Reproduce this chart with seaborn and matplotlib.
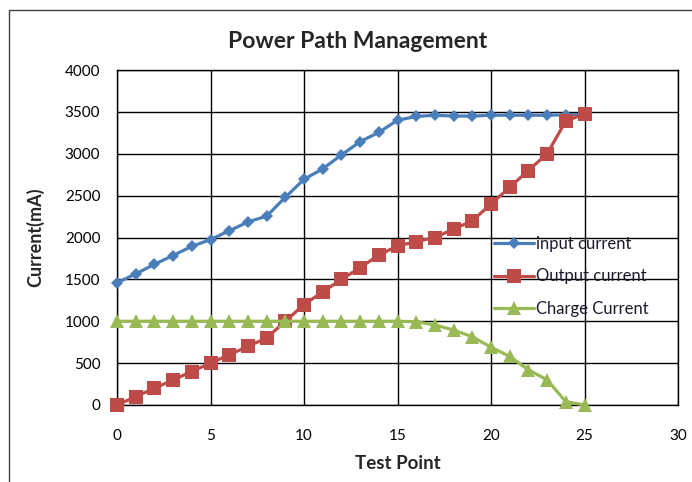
import matplotlib
matplotlib.use("Agg")
import matplotlib.pyplot as plt
import seaborn as sns
import pandas as pd
from matplotlib.patches import Rectangle

sns.set_theme(style="white")
plt.rcParams["font.family"] = ["Lato", "DejaVu Sans"]

# ── DATA
test_point = list(range(26))
input_current = [1460, 1565, 1680, 1785, 1895, 1975, 2080, 2185, 2255, 2480,
                 2695, 2820, 2985, 3145, 3255, 3400, 3445, 3460, 3450, 3450,
                 3460, 3460, 3460, 3460, 3465, 3470]
output_current = [0, 100, 200, 300, 400, 500, 600, 700, 800, 1000,
                  1200, 1350, 1500, 1640, 1790, 1900, 1950, 2000, 2100, 2200,
                  2400, 2600, 2800, 3000, 3390, 3475]
charge_current = [1000, 1000, 1000, 1000, 1000, 1000, 1000, 1000, 1000, 1000,
                  1000, 1000, 1000, 1000, 1000, 1000, 995, 955, 895, 815,
                  690, 580, 420, 300, 40, 0]
series = ["input current", "Output current", "Charge Current"]

df = pd.DataFrame({
    "Test Point": test_point * 3,
    "Current": input_current + output_current + charge_current,
    "series": [s for s in series for _ in test_point],
})

colors = {"input current": "#4A7EBB", "Output current": "#BE4B48", "Charge Current": "#98B954"}
markers = {"input current": "D", "Output current": "s", "Charge Current": "^"}
msizes = {"input current": 6.5, "Output current": 9.5, "Charge Current": 9.5}

fig = plt.figure(figsize=(6.92, 4.82), dpi=100)
fig.patches.append(Rectangle((9/692, -0.1), 1.2, 1 - 10/482 + 0.1, transform=fig.transFigure,
                             fill=False, edgecolor="#404040", linewidth=1.0))
ax = fig.add_axes([117/692, 1 - 405/482, (678-117)/692, (405-70)/482])

for s in series:
    sub = df[df["series"] == s]
    sns.lineplot(data=sub, x="Test Point", y="Current", ax=ax, color=colors[s],
                 marker=markers[s], markersize=msizes[s], markeredgewidth=0,
                 linewidth=2.3, label=s, clip_on=False, zorder=3)

ax.set_xlim(0, 30)
ax.set_ylim(0, 4000)
ax.set_xticks(range(0, 31, 5))
ax.set_yticks(range(0, 4001, 500))
ax.grid(True, color="black", linewidth=1.0)
ax.set_axisbelow(True)
for sp in ax.spines.values():
    sp.set_color("black")
    sp.set_linewidth(1.0)
ax.tick_params(axis="x", length=0, pad=17, labelsize=11, colors="black")
ax.tick_params(axis="y", length=0, pad=12, labelsize=11, colors="black")

fig.text(358/692, 1 - 42/482, "Power Path Management", ha="center", va="center",
         fontsize=16.5, fontweight="bold")
ax.set_xlabel("Test Point", fontsize=13.5, fontweight="bold", labelpad=9)
ax.set_ylabel("Current(mA)", fontsize=13, fontweight="bold", labelpad=15)

leg = ax.legend(loc="upper left", bbox_to_anchor=((487-117)/561, (405-229)/335),
                frameon=False, fontsize=12, handlelength=2.4, handletextpad=0.15,
                labelspacing=1.0, borderaxespad=0)
for t in leg.get_texts():
    t.set_color("#1a1a2e")

fig.savefig("out.png", dpi=100)
